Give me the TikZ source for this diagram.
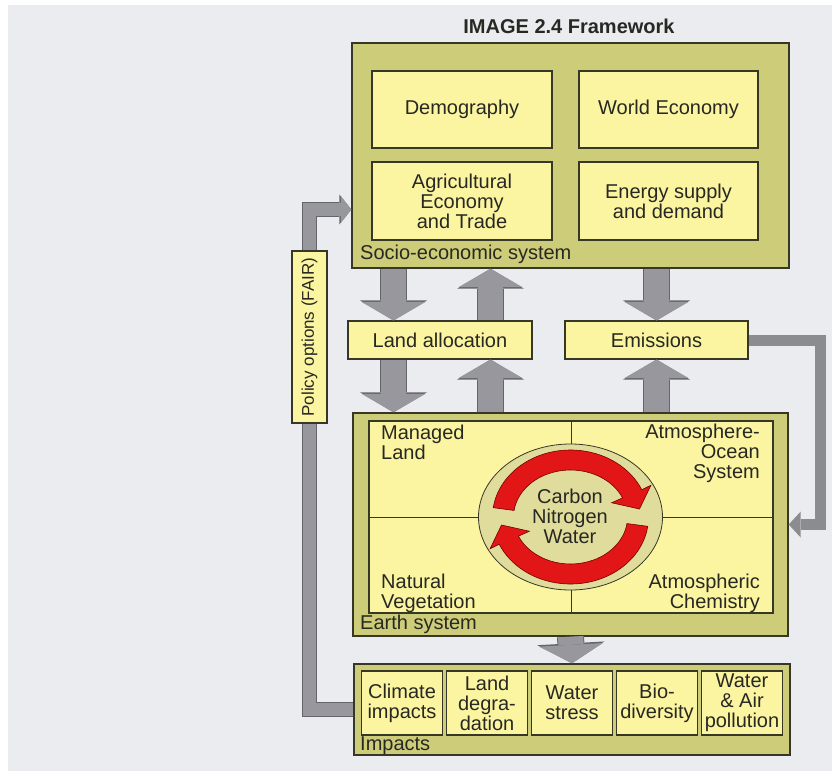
\documentclass[tikz,border=0pt]{standalone}
\usepackage{fontspec}
\setmainfont{Liberation Sans}
\usetikzlibrary{arrows.meta,calc,shapes.geometric}

\definecolor{bggray}{RGB}{235,236,239}
\definecolor{olivebox}{RGB}{205,204,120}
\definecolor{paleyellow}{RGB}{251,244,160}
\definecolor{khaki}{RGB}{224,220,155}
\definecolor{arrowgray}{RGB}{153,151,158}
\definecolor{arrowedge}{RGB}{100,100,106}
\definecolor{feedgray}{RGB}{140,140,142}
\definecolor{cyclered}{RGB}{226,22,22}
\definecolor{boxline}{RGB}{55,55,40}
\definecolor{txt}{RGB}{40,40,35}

\begin{document}
\begin{tikzpicture}[
x=1pt,y=-1pt,
every node/.style={font=\fontsize{20}{20}\selectfont,text=txt},
system/.style={
rectangle,draw=boxline,line width=1.4pt,
fill=olivebox,inner sep=0pt
},
module/.style={
rectangle,draw=boxline,line width=1.1pt,
fill=paleyellow,align=center,inner sep=0pt
},
tag/.style={inner sep=0pt,anchor=base west},
quad/.style={inner sep=0pt},
fatarrow/.style={
draw=arrowgray,line width=25pt,
-{Triangle[width=64pt,length=18.5pt,line width=0pt]},
preaction={draw=arrowedge,line width=27pt,
-{Triangle[width=67pt,length=20pt,line width=0pt]}}
},
feedback/.style={
draw=arrowgray,line width=12.5pt,line join=miter,
preaction={draw=arrowedge,line width=14.5pt,line join=miter}
},
feedtip/.style={
draw=arrowgray,line width=12.5pt,line join=miter,
-{Triangle[width=27pt,length=10.5pt,line width=0pt]},
preaction={draw=arrowedge,line width=14.5pt,line join=miter,
-{Triangle[width=30pt,length=12pt,line width=0pt]}}
},
feedlight/.style={
draw=feedgray,line width=11pt,line join=miter,
-{Triangle[width=26pt,length=12pt,line width=0pt]}
},
cyclearrow/.style={fill=cyclered,draw=red!45!black,line width=0.6pt}
]

\useasboundingbox (0,0) rectangle (832,771);
\fill[white] (0,0) rectangle (832,771);
\fill[bggray] (8,5) rectangle (832,771);

\node[font=\fontsize{20}{20}\selectfont\bfseries,inner sep=0pt,anchor=base] (title) at (569,33)
{IMAGE 2.4 Framework};

% =======================
% SOCIO-ECONOMIC SYSTEM
% =======================

\node[system,minimum width=437pt,minimum height=225pt] (socio) at (570.5,155.5) {};

\node[module,minimum width=180pt,minimum height=77pt] (demo) at (462,109.5) {Demography};
\node[module,minimum width=179pt,minimum height=77pt] (econ) at (668.5,109.5) {World Economy};
\node[module,minimum width=180pt,minimum height=78pt] (agri) at (462,201)
{Agricultural\\Economy\\and Trade};
\node[module,minimum width=179pt,minimum height=78pt] (energy) at (668.5,201)
{Energy supply\\and demand};

\node[tag] (sociotag) at (360,259) {Socio-economic system};

% =======================
% LAND ALLOCATION / EMISSIONS
% =======================

\node[module,minimum width=184pt,minimum height=38pt] (land) at (440,340) {Land allocation};
\node[module,minimum width=183pt,minimum height=38pt] (emissions) at (656.5,340) {Emissions};

% =======================
% EARTH SYSTEM
% =======================

\node[system,minimum width=435pt,minimum height=223pt] (earth) at (570.5,524.5) {};
\node[module,minimum width=404pt,minimum height=192pt] (panel) at (571,517) {};
\draw[boxline,line width=1pt] (panel.north) -- (panel.south);
\draw[boxline,line width=1pt] (panel.west) -- (panel.east);

\node[ellipse,draw=boxline,line width=0.8pt,fill=khaki,
minimum width=184pt,minimum height=146pt,inner sep=0pt] (cycles) at (570.5,517) {};

\foreach \turn in {0,180}{
\begin{scope}[shift={(cycles.center)},rotate=\turn]
\filldraw[cyclearrow] (172:78pt and 67pt)
arc[start angle=172,end angle=24,x radius=78pt,y radius=67pt]
-- (24:88pt and 78pt) -- (69pt,8pt) -- (24:45pt and 35pt) -- (24:57pt and 47pt)
arc[start angle=24,end angle=172,x radius=57pt,y radius=47pt] -- cycle;
\end{scope}
}

\node[align=center,inner sep=0pt,anchor=north] (cnw) at (570,488.5)
{Carbon\\Nitrogen\\Water};

\node[quad,align=left,anchor=north west] (managed) at (381,424.5) {Managed\\Land};
\node[quad,align=right,anchor=north east] (aos) at (760,423.5)
{Atmosphere-\\Ocean\\System};
\node[quad,align=left,anchor=north west] (natveg) at (381,573.5) {Natural\\Vegetation};
\node[quad,align=right,anchor=north east] (chem) at (760,573.5)
{Atmospheric\\Chemistry};

\node[tag] (earthtag) at (360,629) {Earth system};

% =======================
% IMPACTS
% =======================

\node[system,minimum width=436pt,minimum height=91pt] (impacts) at (572,709.5) {};

\foreach \txt [count=\i] in {Climate\\impacts,Land\\degra-\\dation,Water\\stress,
Bio-\\diversity,Water\\\& Air\\pollution}{
\node[module,minimum width=81pt,minimum height=64pt] (imp\i) at ({317+85*\i},703) {\txt};
}

\node[tag] (imptag) at (360,750) {Impacts};

% =======================
% POLICY
% =======================

\node[module,minimum width=35pt,minimum height=172pt,font=\fontsize{17}{17}\selectfont]
(policy) at (309.5,337) {\rotatebox{90}{Policy options (FAIR)}};

% =======================
% ARROWS
% =======================

\draw[fatarrow] ($(socio.south -| land.north)+(-46.5,0)$) -- ($(land.north)+(-46.5,0)$);
\draw[fatarrow] ($(land.north)+(50.5,0)$) -- ($(socio.south -| land.north)+(50.5,0)$);
\draw[fatarrow] (socio.south -| emissions.north) -- (emissions.north);

\draw[fatarrow] ($(land.south)+(-46.5,0)$) -- ($(earth.north -| land.south)+(-46.5,0)$);
\draw[fatarrow] ($(earth.north -| land.south)+(50.5,0)$) -- ($(land.south)+(50.5,0)$);
\draw[fatarrow] (earth.north -| emissions.south) -- (emissions.south);

\draw[fatarrow] (earth.south) -- (impacts.north);

\draw[feedback] (impacts.west) -| (policy.south);
\draw[feedtip] (policy.north) |- ($(socio.west)+(0,54)$);

\draw[feedlight] (emissions.east) -- ++(71.5,0) |- (earth.east);

\end{tikzpicture}
\end{document}
